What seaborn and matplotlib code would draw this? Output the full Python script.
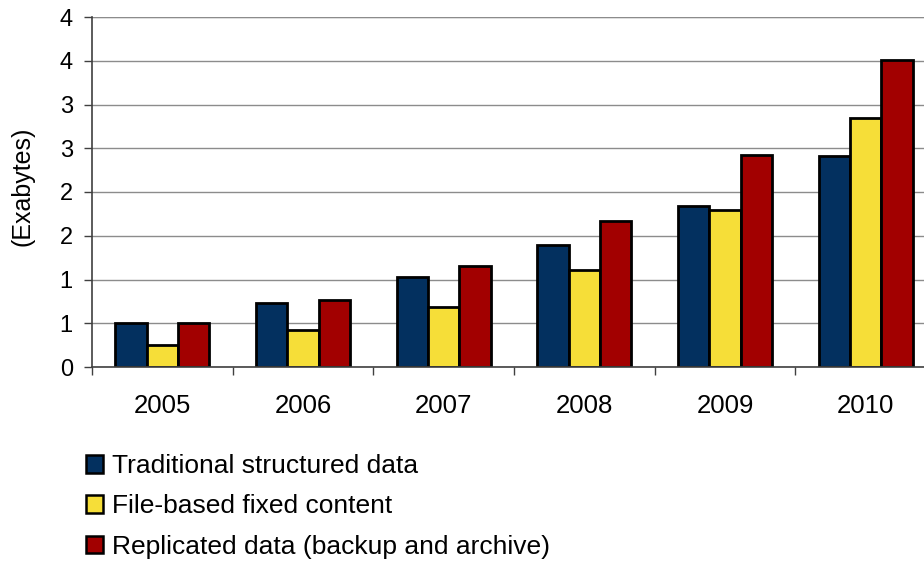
import matplotlib
matplotlib.use("Agg")
import matplotlib.pyplot as plt
from matplotlib.patches import Patch
from matplotlib.ticker import FixedLocator
import pandas as pd
import seaborn as sns

years = ["2005", "2006", "2007", "2008", "2009", "2010"]
series_names = [
    "Traditional structured data",
    "File-based fixed content",
    "Replicated data (backup and archive)",
]
traditional = [0.50, 0.73, 1.03, 1.40, 1.84, 2.41]
file_based = [0.25, 0.42, 0.69, 1.11, 1.79, 2.85]
replicated = [0.50, 0.77, 1.15, 1.67, 2.42, 3.51]
y_ticks = [0, 0.5, 1.0, 1.5, 2.0, 2.5, 3.0, 3.5, 4.0]
y_tick_labels = ["0", "1", "1", "2", "2", "3", "3", "4", "4"]
colors = ["#03305F", "#F6DE38", "#A20000"]

df = pd.DataFrame({
    "year": years * 3,
    "series": [series_names[0]] * 6 + [series_names[1]] * 6 + [series_names[2]] * 6,
    "value": traditional + file_based + replicated,
})

sns.set_theme(style="white")
plt.rcParams["font.family"] = ["Liberation Sans", "DejaVu Sans"]
plt.rcParams["text.color"] = "black"

fig = plt.figure(figsize=(9.24, 5.61), dpi=100)
ax = fig.add_axes([92 / 924, 1 - 367 / 561, (936 - 92) / 924, (367 - 17) / 561])

sns.barplot(
    data=df, x="year", y="value", hue="series", order=years,
    hue_order=series_names, palette=colors, width=0.667,
    edgecolor="black", linewidth=2.0, ax=ax, legend=False, saturation=1,
)

ax.set_xlim(-0.5, 5.5)
ax.set_ylim(0, 4)
ax.set_yticks(y_ticks)
ax.set_yticklabels(y_tick_labels, fontsize=17, color="black")
ax.yaxis.grid(True, color="#8C8C8C", linewidth=1.0)
ax.axhline(4, color="#8C8C8C", linewidth=1.6, zorder=0)
ax.set_axisbelow(True)

ax.set_xticks(range(len(years)))
ax.set_xticklabels(years, fontsize=18.5, color="black")
ax.xaxis.set_minor_locator(FixedLocator([i - 0.5 for i in range(len(years) + 1)]))
ax.tick_params(axis="x", which="major", length=0, pad=19.5)
ax.tick_params(axis="x", which="minor", length=5.8, width=1, color="#404040", bottom=True)
ax.tick_params(axis="y", which="major", length=5.8, width=1, color="#404040", left=True, pad=8)

ax.set_xlabel("")
ax.set_ylabel("(Exabytes)", fontsize=18, color="black")
ax.yaxis.set_label_coords(-0.068, 0.515)

for side in ["top", "right"]:
    ax.spines[side].set_visible(False)
for side in ["left", "bottom"]:
    ax.spines[side].set_color("#404040")
    ax.spines[side].set_linewidth(1.2)

handles = [Patch(facecolor=c, edgecolor="black", linewidth=1.8) for c in colors]
fig.legend(
    handles, series_names, loc="upper left", bbox_to_anchor=(86 / 924, 1 - 454 / 561),
    frameon=False, fontsize=19, handlelength=0.65, handleheight=0.65,
    handletextpad=0.34, labelspacing=0.62, borderaxespad=0, borderpad=0,
    labelcolor="black",
)

fig.savefig("out.png", dpi=100)
